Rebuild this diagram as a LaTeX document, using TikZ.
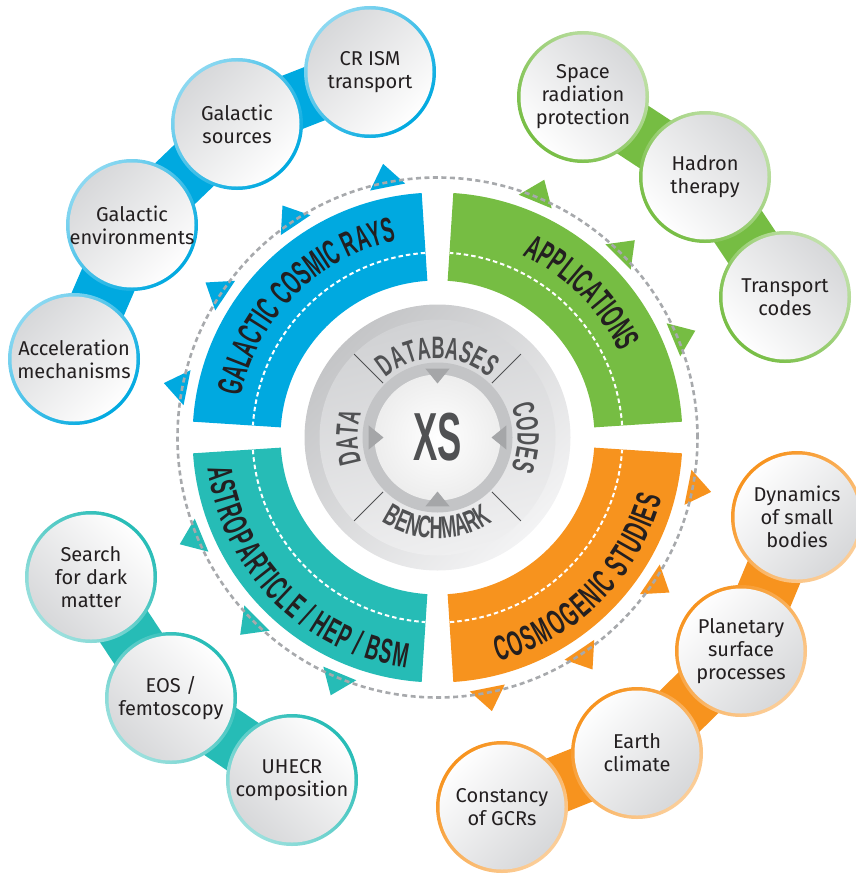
\documentclass[tikz,border=0pt]{standalone}
\usepackage{fontspec}
\usetikzlibrary{decorations.text,backgrounds}
\newfontfamily\bubblefont{Fira Sans}
\newfontfamily\bandfont{Liberation Sans}[FakeStretch=0.535]
\newfontfamily\ringfont{Liberation Sans}[FakeStretch=0.58]
\definecolor{gcrblue}{RGB}{0,169,224}
\definecolor{appgreen}{RGB}{118,189,67}
\definecolor{astroteal}{RGB}{38,188,182}
\definecolor{cosmoorange}{RGB}{247,147,30}
\definecolor{inkdark}{RGB}{35,31,32}
\definecolor{ringgray}{RGB}{80,81,83}
\definecolor{dashgray}{RGB}{167,169,172}
\definecolor{bubblegray}{RGB}{214,215,217}
\definecolor{diskdark}{RGB}{196,197,199}
\definecolor{disklight}{RGB}{243,243,244}
\definecolor{banddark}{RGB}{209,210,212}
\definecolor{bandlight}{RGB}{239,239,240}
\definecolor{ringmid}{RGB}{195,196,198}
\definecolor{notchgray}{RGB}{165,166,168}

\begin{document}
\begin{tikzpicture}[x=1pt, y=1pt,
  bubble/.style 2 args={circle, minimum size=132pt, inner sep=0pt, align=center,
    text=inkdark, font=\bubblefont\fontsize{20}{23}\selectfont,
    top color=#1!45, bottom color=#1, shading angle=#2,
    path picture={\shade[top color=bubblegray, bottom color=white, shading angle=#2]
      (path picture bounding box.center) circle[radius=62.5pt];}},
  chainband/.style={draw=#1, line width=57pt},
  whitedash/.style={draw=white, line width=2pt, dash pattern=on 4.5pt off 3pt},
  dashring/.style={draw=dashgray, line width=2.6pt, dash pattern=on 5pt off 3.5pt},
  bandtext/.style={decorate, decoration={text along path, text align=center,
    text={|\bandfont\bfseries\fontsize{35}{35}\selectfont\color{inkdark}|#1}}},
  bandtextlow/.style={bandtext={#1}, decoration={raise=-26pt}},
  ringtext/.style={decorate, decoration={text along path, text align=center,
    text={|\ringfont\bfseries\fontsize{31}{31}\selectfont\color{ringgray}|#1}}},
  sepline/.style={draw=ringgray, line width=0.8pt}]
\useasboundingbox (0,0) rectangle (856,-875);
\coordinate (C) at (437.5,-437.5);

\begin{scope}[shift={(C)}]
% quarter bands
\foreach \a/\col in {0/appgreen, 90/gcrblue, 180/astroteal, 270/cosmoorange} {
  \fill[\col] (\a+3.7:157pt) arc[start angle=\a+3.7, end angle=\a+86.3, radius=157pt]
    -- (\a+86.3:245pt) arc[start angle=\a+86.3, end angle=\a+3.7, radius=245pt] -- cycle;
  \draw[whitedash] (\a+3.8:185pt) arc[start angle=\a+3.8, end angle=\a+86.2, radius=185pt];
}
% teeth on the dashed ring
\foreach \a/\col in {22.5/appgreen, 45/appgreen, 67.5/appgreen,
    101.25/gcrblue, 123.75/gcrblue, 146.25/gcrblue, 168.75/gcrblue,
    202.5/astroteal, 225/astroteal, 247.5/astroteal,
    -11.25/cosmoorange, -33.75/cosmoorange, -56.25/cosmoorange, -78.75/cosmoorange}
  \fill[\col] (\a-4:256pt) -- (\a:279pt) -- (\a+4:256pt) -- cycle;
\draw[dashring] (0,0) circle[radius=260pt];

% band titles
\path[bandtext={GALACTIC COSMIC RAYS}] (178:201pt) arc[start angle=178, end angle=92, radius=201pt];
\path[bandtext={APPLICATIONS}] (88:201pt) arc[start angle=88, end angle=2, radius=201pt];
\path[bandtextlow={ASTROPARTICLE / HEP / BSM}] (182:206pt) arc[start angle=182, end angle=268, radius=206pt];
\path[bandtextlow={COSMOGENIC STUDIES}] (272:206pt) arc[start angle=272, end angle=358, radius=206pt];

% centre disk
\shade[left color=diskdark, right color=disklight, shading angle=45] (0,0) circle[radius=133pt];
\shade[left color=banddark, right color=bandlight, shading angle=15] (0,0) circle[radius=118pt];
\fill[ringmid] (0,0) circle[radius=75pt];
\shade[inner color=white, outer color=white!93!black] (0,0) circle[radius=63pt];
\foreach \a in {0,90,180,270}
  \fill[notchgray] (\a-10:70pt) -- (\a:54pt) -- (\a+10:70pt) -- cycle;
\foreach \a in {45,135,225,315}
  \draw[sepline] (\a:77pt) -- (\a:118pt);
\path[ringtext={DATABASES}] (150:79pt) arc[start angle=150, end angle=30, radius=79pt];
\path[ringtext={CODES}] (40:80pt) arc[start angle=40, end angle=-40, radius=80pt];
\path[ringtext={DATA}] (220:80pt) arc[start angle=220, end angle=140, radius=80pt];
\path[ringtext={BENCHMARK}] (210:101pt) arc[start angle=210, end angle=330, radius=101pt];
\node[font=\bandfont\bfseries\fontsize{68}{68}\selectfont, text=ringgray] (xs) at (0,0) {XS};
\end{scope}

% bubbles
\node[bubble={gcrblue}{45}] (crism) at (370,-72) {CR ISM\\transport};
\node[bubble={gcrblue}{45}] (gsrc) at (237,-124) {Galactic\\sources};
\node[bubble={gcrblue}{45}] (genv) at (132,-225) {Galactic\\environments};
\node[bubble={gcrblue}{45}] (accel) at (74,-359) {Acceleration\\mechanisms};

\node[bubble={appgreen}{-45}] (space) at (583,-97) {Space\\radiation\\protection};
\node[bubble={appgreen}{-45}] (hadron) at (705,-177) {Hadron\\therapy};
\node[bubble={appgreen}{-45}] (transp) at (785,-297) {Transport\\codes};

\node[bubble={cosmoorange}{-135}] (dyn) at (797,-517) {Dynamics\\of small\\bodies};
\node[bubble={cosmoorange}{-135}] (plan) at (741,-651) {Planetary\\surface\\processes};
\node[bubble={cosmoorange}{-135}] (earth) at (637,-753) {Earth\\climate};
\node[bubble={cosmoorange}{-135}] (const) at (502,-807) {Constancy\\of GCRs};

\node[bubble={astroteal}{135}] (dark) at (91,-577) {Search\\for dark\\matter};
\node[bubble={astroteal}{135}] (eos) at (171,-698) {EOS /\\femtoscopy};
\node[bubble={astroteal}{135}] (uhecr) at (292,-780) {UHECR\\composition};

% chains behind the bubbles
\begin{scope}[on background layer]
\draw[chainband=gcrblue] (accel.center) -- (genv.center) -- (gsrc.center) -- (crism.center);
\draw[chainband=appgreen] (space.center) -- (hadron.center) -- (transp.center);
\draw[chainband=cosmoorange] (dyn.center) -- (plan.center) -- (earth.center) -- (const.center);
\draw[chainband=astroteal] (dark.center) -- (eos.center) -- (uhecr.center);
\end{scope}
\end{tikzpicture}
\end{document}
